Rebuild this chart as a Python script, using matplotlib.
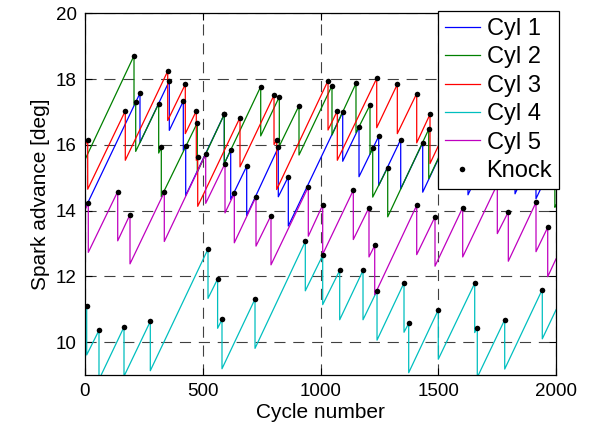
import matplotlib
matplotlib.use("Agg")
import matplotlib.pyplot as plt
from matplotlib.lines import Line2D

plt.rcParams["font.family"] = ["Liberation Sans", "DejaVu Sans"]

# ---------- data: knock events per cylinder ----------
# cycle of knock, spark advance at knock, advance right after the retard
cyl1_start = 14.06
cyl1_cycle = [233.5, 358.0, 417.4, 427.6, 591.5, 618.7, 686.6, 820.8, 863.3, 1094.3,
              1163.5, 1247.1, 1340.6, 1434.0, 1549.8, 1626.3, 1741.0, 1826.0, 1915.0]
cyl1_peak = [17.57, 17.94, 17.33, 15.96, 16.93, 15.84, 15.35, 15.92, 15.03, 17.00,
             16.53, 16.26, 16.16, 16.06, 16.32, 15.98, 16.22, 16.01, 15.86]
cyl1_after = [16.07, 16.44, 15.83, 14.46, 15.43, 14.34, 13.85, 14.42, 13.53, 15.50,
              15.03, 14.76, 14.66, 14.56, 14.82, 14.48, 14.72, 14.51, 14.36]
cyl1_end = 15.65

cyl2_start = 15.55
cyl2_cycle = [208.1, 215.3, 312.9, 324.0, 476.9, 591.5, 746.1, 825.1, 908.7, 1048.8,
              1150.7, 1210.2, 1221.7, 1285.4, 1459.5, 1570.5, 1676.6, 1782.7, 1888.9,
              1965.3, 1995.1]
cyl2_peak = [18.71, 17.30, 17.25, 15.92, 16.67, 16.93, 17.77, 17.46, 17.19, 17.80,
             17.87, 17.21, 15.91, 15.31, 16.47, 16.66, 16.77, 16.88, 16.99, 16.65, 15.60]
cyl2_after = [17.21, 15.80, 15.75, 14.42, 15.17, 15.43, 16.27, 15.96, 15.69, 16.30,
              16.37, 15.71, 14.41, 13.81, 14.97, 15.16, 15.27, 15.38, 15.49, 15.15, 14.10]
cyl2_end = 14.17

cyl3_start = 15.98
cyl3_cycle = [11.5, 171.1, 351.2, 425.9, 472.6, 478.6, 658.2, 802.6, 814.0, 1031.9,
              1071.4, 1238.7, 1326.2, 1408.5, 1465.0, 1634.8, 1741.0, 1868.4, 1953.3]
cyl3_peak = [16.15, 17.03, 18.24, 17.84, 17.03, 15.63, 16.83, 17.51, 16.14, 17.95,
             17.03, 18.02, 17.84, 17.56, 16.93, 18.01, 18.12, 18.56, 18.35]
cyl3_after = [14.65, 15.53, 16.74, 16.34, 15.53, 14.13, 15.33, 16.01, 14.64, 16.45,
              15.53, 16.52, 16.34, 16.06, 15.43, 16.51, 16.62, 17.06, 16.85]
cyl3_end = 17.56

cyl4_start = 11.0
cyl4_cycle = [7.2, 59.4, 165.6, 277.3, 522.3, 563.1, 581.7, 721.9, 935.5, 1009.3,
              1081.5, 1180.5, 1240.0, 1354.6, 1374.5, 1500.2, 1654.8, 1665.8, 1782.2, 1941.8]
cyl4_peak = [11.11, 10.36, 10.46, 10.63, 12.83, 11.92, 10.69, 11.31, 13.06, 12.64,
             12.18, 12.18, 11.56, 11.80, 10.57, 10.98, 11.79, 10.43, 10.68, 11.60]
cyl4_after = [9.61, 8.86, 8.96, 9.13, 11.33, 10.42, 9.19, 9.81, 11.56, 11.14,
              10.68, 10.68, 10.06, 10.30, 9.07, 9.48, 10.29, 8.93, 9.18, 10.10]
cyl4_end = 10.98

cyl5_start = 14.02
cyl5_cycle = [14.0, 138.9, 191.1, 336.7, 512.5, 594.5, 634.0, 726.1, 789.8, 948.2,
              1009.3, 1139.3, 1205.9, 1230.2, 1408.5, 1486.2, 1603.8, 1750.8, 1797.5,
              1915.1, 1964.8]
cyl5_peak = [14.23, 14.58, 13.88, 14.56, 15.72, 15.43, 14.52, 14.42, 13.85, 14.72,
             14.17, 14.62, 14.09, 12.94, 14.16, 13.81, 14.09, 14.80, 13.96, 14.25, 13.49]
cyl5_after = [12.73, 13.08, 12.38, 13.06, 14.22, 13.93, 13.02, 12.92, 12.35, 13.22,
              12.67, 13.12, 12.59, 11.44, 12.66, 12.31, 12.59, 13.30, 12.46, 12.75, 11.99]
cyl5_end = 12.53

labels = ["Cyl 1", "Cyl 2", "Cyl 3", "Cyl 4", "Cyl 5"]
colors = ["#0000FF", "#008000", "#FF0000", "#00BFBF", "#BF00BF"]

cylinders = [
    (cyl1_start, cyl1_cycle, cyl1_peak, cyl1_after, cyl1_end),
    (cyl2_start, cyl2_cycle, cyl2_peak, cyl2_after, cyl2_end),
    (cyl3_start, cyl3_cycle, cyl3_peak, cyl3_after, cyl3_end),
    (cyl4_start, cyl4_cycle, cyl4_peak, cyl4_after, cyl4_end),
    (cyl5_start, cyl5_cycle, cyl5_peak, cyl5_after, cyl5_end),
]


def sawtooth(start, cyc, peak, after, end):
    xs, ys = [0], [start]
    for c, p, a in zip(cyc, peak, after):
        xs += [c, c]
        ys += [p, a]
    xs.append(2000)
    ys.append(end)
    return xs, ys


# ---------- chart ----------
fig = plt.figure(figsize=(5.97, 4.43), dpi=100)
ax = fig.add_axes([85 / 597, 1 - 375 / 443, 471 / 597, (375 - 13.3) / 443])

for (start, cyc, peak, after, end), lab, col in zip(cylinders, labels, colors):
    xs, ys = sawtooth(start, cyc, peak, after, end)
    ax.plot(xs, ys, color=col, lw=0.9, label=lab, zorder=2)

for (start, cyc, peak, after, end) in cylinders:
    ax.plot(cyc, peak, "o", color="k", ms=4.0, mew=0, zorder=3)

ax.set_xlim(0, 2000)
ax.set_ylim(9, 20)
ax.set_xticks([0, 500, 1000, 1500, 2000])
ax.set_yticks([10, 12, 14, 16, 18, 20])

ax.grid(True, ls=(0, (10, 7)), color="0.25", lw=0.8, zorder=1)
ax.tick_params(direction="in", top=True, right=True, length=5, width=0.8,
               labelsize=13.5, pad=6)
for s in ax.spines.values():
    s.set_linewidth(0.9)

ax.set_xlabel("Cycle number", fontsize=15, labelpad=2)
ax.set_ylabel("Spark advance [deg]", fontsize=15, labelpad=4)

handles = [Line2D([], [], color=c, lw=0.9) for c in colors]
handles.append(Line2D([], [], ls="none", marker="o", color="k", ms=4.0, mew=0))
leg = ax.legend(handles, labels + ["Knock"], loc="upper right",
                bbox_to_anchor=(559.3 / 597, 1 - 11 / 443), bbox_transform=fig.transFigure,
                borderaxespad=0, fontsize=17, frameon=True, fancybox=False,
                framealpha=1, edgecolor="k", handlelength=1.45, handletextpad=0.3,
                labelspacing=0.27, borderpad=0.3)
leg.get_frame().set_linewidth(0.9)
leg.set_zorder(5)

fig.savefig("out.png", dpi=100)
